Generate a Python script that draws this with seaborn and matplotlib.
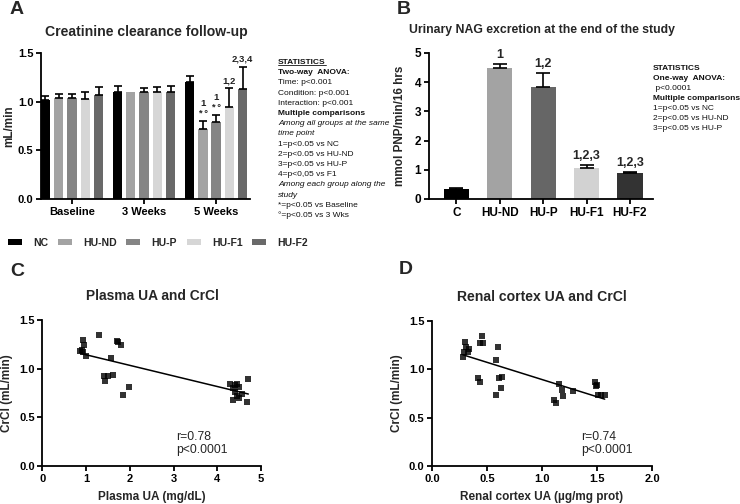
import numpy as np
import pandas as pd
import matplotlib
matplotlib.use("Agg")
import matplotlib.pyplot as plt
import seaborn as sns
from matplotlib.patches import Patch
from matplotlib.lines import Line2D
from matplotlib.container import BarContainer

# ---------------- data ----------------
groups = ["NC", "HU-ND", "HU-P", "HU-F1", "HU-F2"]
timepoints = ["Baseline", "3 Weeks", "5 Weeks"]
crcl_nc = [1.02, 1.10, 1.20]
crcl_hund = [1.04, 1.10, 0.72]
crcl_hup = [1.04, 1.10, 0.79]
crcl_huf1 = [1.03, 1.10, 0.95]
crcl_huf2 = [1.07, 1.10, 1.13]
crcl_err_nc = [0.04, 0.06, 0.06]
crcl_err_hund = [0.04, 0.0, 0.08]
crcl_err_hup = [0.04, 0.04, 0.07]
crcl_err_huf1 = [0.07, 0.05, 0.19]
crcl_err_huf2 = [0.08, 0.06, 0.23]
crcl_sig_5wk = ["", "1\n* °", "1\n* °", "1,2", "2,3,4"]

nag_groups = ["C", "HU-ND", "HU-P", "HU-F1", "HU-F2"]
nag_mean = [0.33, 4.47, 3.85, 1.05, 0.88]
nag_err = [0.03, 0.15, 0.45, 0.10, 0.03]
nag_sig = ["", "1", "1,2", "1,2,3", "1,2,3"]

plasma_ua = [0.87, 0.92, 0.95, 0.90, 0.94, 1.00, 1.30, 1.70, 1.74, 1.79, 1.57,
             1.40, 1.43, 1.51, 1.62, 1.98, 1.85,
             4.29, 4.41, 4.71, 4.41, 4.45, 4.56, 4.68, 4.37, 4.49, 4.35, 4.50, 4.46]
crcl_c = [1.18, 1.29, 1.24, 1.19, 1.17, 1.13, 1.35, 1.28, 1.27, 1.24, 1.11,
          0.92, 0.87, 0.92, 0.93, 0.815, 0.73,
          0.84, 0.83, 0.89, 0.76, 0.72, 0.74, 0.66, 0.80, 0.81, 0.68, 0.70, 0.84]

cortex_ua = [0.28, 0.29, 0.30, 0.31, 0.33, 0.34, 0.45, 0.44, 0.46, 0.60, 0.58,
             0.42, 0.44, 0.58, 0.61, 0.64, 0.63,
             1.15, 1.18, 1.19, 1.11, 1.13, 1.28, 1.48, 1.50, 1.54, 1.51, 1.49, 1.57]
crcl_d = [1.13, 1.18, 1.28, 1.23, 1.18, 1.21, 1.34, 1.27, 1.27, 1.23, 1.10,
          0.915, 0.87, 0.73, 0.91, 0.92, 0.81,
          0.85, 0.79, 0.72, 0.68, 0.655, 0.78, 0.87, 0.84, 0.73, 0.73, 0.83, 0.73]

colors_a = ["#000000", "#a3a3a3", "#858585", "#d6d6d6", "#696969"]
colors_b = ["#000000", "#a3a3a3", "#666666", "#d2d2d2", "#333333"]

# ---------------- style ----------------
sns.set_theme(style="ticks")
plt.rcParams["font.family"] = ["Liberation Sans", "DejaVu Sans"]
plt.rcParams.update({
    "axes.linewidth": 1.3,
    "xtick.major.width": 1.3,
    "ytick.major.width": 1.3,
    "xtick.major.size": 3.5,
    "ytick.major.size": 3.5,
    "xtick.color": "black",
    "ytick.color": "black",
    "axes.edgecolor": "black",
})

W, H = 740, 504
fig = plt.figure(figsize=(W / 100, H / 100), dpi=100)


def ax_px(left, top, right, bottom):
    return fig.add_axes([left / W, 1 - bottom / H, (right - left) / W, (bottom - top) / H])


def fx(x):
    return x / W


def fy(y):
    return 1 - y / H


def style_ax(ax, size=8):
    sns.despine(ax=ax)
    for lab in ax.get_xticklabels() + ax.get_yticklabels():
        lab.set_fontweight("bold")
        lab.set_fontsize(size)
    ax.tick_params(axis="both", pad=2)


# ---------------- Panel A ----------------
axA = ax_px(41, 53, 250, 199)
rows = []
means_all = [crcl_nc, crcl_hund, crcl_hup, crcl_huf1, crcl_huf2]
errs_all = [crcl_err_nc, crcl_err_hund, crcl_err_hup, crcl_err_huf1, crcl_err_huf2]
for g, m in zip(groups, means_all):
    for t, v in zip(timepoints, m):
        rows.append({"time": t, "group": g, "value": v})
dfA = pd.DataFrame(rows)
sns.barplot(data=dfA, x="time", y="value", hue="group", hue_order=groups,
            order=timepoints, palette=colors_a, width=0.92, gap=0.3,
            errorbar=None, legend=False, linewidth=0, ax=axA)
bar_containers = [c for c in axA.containers if isinstance(c, BarContainer)]
for gi, cont in enumerate(bar_containers):
    for ti, bar in enumerate(list(cont)):
        xc = bar.get_x() + bar.get_width() / 2
        top = bar.get_height()
        e = errs_all[gi][ti]
        if e > 0:
            axA.errorbar([xc], [top], yerr=[[0], [e]], fmt="none", ecolor="black",
                         elinewidth=1.2, capsize=2.6, capthick=1.2)
        if ti == 2 and crcl_sig_5wk[gi]:
            axA.text(xc, top + e + 0.03, crcl_sig_5wk[gi], ha="center", va="bottom",
                     fontsize=6.8, fontweight="bold", linespacing=1.2, color="#222222")
axA.set_ylim(0, 1.5)
axA.set_xlim(-0.43, 2.47)
axA.set_yticks([0, 0.5, 1.0, 1.5])
axA.set_yticklabels(["0.0", "0.5", "1.0", "1.5"])
axA.set_xlabel("")
axA.set_ylabel("mL/min", fontsize=8.5, fontweight="bold", labelpad=2)
style_ax(axA)
fig.text(fx(146), fy(32), "Creatinine clearance follow-up", ha="center", va="center",
         fontsize=10.1, fontweight="bold")

statsA = [
    ("STATISTICS", "bold"), ("Two-way  ANOVA:", "bold"), ("Time: p<0.001", "normal"),
    ("Condition: p<0.001", "normal"), ("Interaction: p<0.001", "normal"),
    ("Multiple comparisons", "bold"), ("Among all groups at the same", "italic"),
    ("time point", "italic"), ("1=p<0.05 vs NC", "normal"), ("2=p<0.05 vs HU-ND", "normal"),
    ("3=p<0.05 vs HU-P", "normal"), ("4=p<0,05 vs F1", "normal"),
    ("Among each group along the", "italic"), ("study", "italic"),
    ("*=p<0.05 vs Baseline", "normal"), ("°=p<0.05 vs 3 Wks", "normal"),
]
text_objs = []
for i, (s, st) in enumerate(statsA):
    kw = dict(fontsize=6.0, ha="left", va="center", color="#111111")
    if st == "bold":
        kw["fontweight"] = "bold"
    elif st == "italic":
        kw["fontstyle"] = "italic"
    text_objs.append(fig.text(fx(278), fy(62.5 + i * 10.2), s, **kw))

# ---------------- Panel B ----------------
axB = ax_px(429, 53, 653, 199)
sns.barplot(x=nag_groups, y=nag_mean, hue=nag_groups, palette=colors_b, width=0.58,
            legend=False, linewidth=0, ax=axB)
barsB = list(axB.patches)
for i, bar in enumerate(barsB):
    xc = bar.get_x() + bar.get_width() / 2
    top = bar.get_height()
    axB.errorbar([xc], [top], yerr=[[0], [nag_err[i]]], fmt="none", ecolor="black",
                 elinewidth=1.2, capsize=5, capthick=1.2)
    if nag_sig[i]:
        axB.text(xc, top + nag_err[i] + 0.12, nag_sig[i], ha="center", va="bottom",
                 fontsize=9, fontweight="bold")
axB.set_ylim(0, 5)
axB.set_xlim(-0.63, 4.53)
axB.set_yticks([0, 1, 2, 3, 4, 5])
axB.set_ylabel("mmol PNP/min/16 hrs", fontsize=8.5, fontweight="bold", labelpad=6)
style_ax(axB, size=8.5)
fig.text(fx(542), fy(30), "Urinary NAG excretion at the end of the study", ha="center",
         va="center", fontsize=8.8, fontweight="bold")
statsB = [
    ("STATISTICS", "bold"), ("One-way  ANOVA:", "bold"), (" p<0.0001", "normal"),
    ("Multiple comparisons", "bold"), ("1=p<0.05 vs NC", "normal"),
    ("2=p<0.05 vs HU-ND", "normal"), ("3=p<0.05 vs HU-P", "normal"),
]
for i, (s, st) in enumerate(statsB):
    kw = dict(fontsize=6.0, ha="left", va="center", color="#111111")
    if st == "bold":
        kw["fontweight"] = "bold"
    fig.text(fx(653), fy(69 + i * 10), s, **kw)

# ---------------- Legend ----------------
handles = [Patch(facecolor=c, edgecolor="none") for c in colors_a]
leg = fig.legend(handles, groups, loc="center left", bbox_to_anchor=(fx(8), fy(243)),
                 ncol=5, frameon=False, handlelength=1.35, handleheight=0.45,
                 handletextpad=1.05, columnspacing=0.95, borderpad=0, borderaxespad=0,
                 prop={"weight": "bold", "size": 7.5})

# ---------------- Panel C ----------------
axC = ax_px(42.3, 320, 261, 466)
sns.regplot(x=plasma_ua, y=crcl_c, ci=None, marker="s", color="black",
            scatter_kws={"s": 16, "linewidths": 0}, line_kws={"lw": 1.1}, ax=axC)
axC.set_xlim(0, 5)
axC.set_ylim(0, 1.5)
axC.set_xticks([0, 1, 2, 3, 4, 5])
axC.set_yticks([0, 0.5, 1.0, 1.5])
axC.set_yticklabels(["0.0", "0.5", "1.0", "1.5"])
axC.set_xlabel("Plasma UA (mg/dL)", fontsize=8.5, fontweight="bold", labelpad=5)
axC.set_ylabel("CrCl (mL/min)", fontsize=8.5, fontweight="bold", labelpad=4)
style_ax(axC)
axC.text(3.06, 0.36, "r=0.78\np<0.0001", fontsize=8.7, va="top", ha="left", linespacing=1.1)
fig.text(fx(152), fy(296), "Plasma UA and CrCl", ha="center", va="center",
         fontsize=9.9, fontweight="bold")

# ---------------- Panel D ----------------
axD = ax_px(432, 321, 652, 466)
sns.regplot(x=cortex_ua, y=crcl_d, ci=None, marker="s", color="black",
            scatter_kws={"s": 16, "linewidths": 0}, line_kws={"lw": 1.1}, ax=axD)
axD.set_xlim(0, 2)
axD.set_ylim(0, 1.5)
axD.set_xticks([0, 0.5, 1.0, 1.5, 2.0])
axD.set_xticklabels(["0.0", "0.5", "1.0", "1.5", "2.0"])
axD.set_yticks([0, 0.5, 1.0, 1.5])
axD.set_yticklabels(["0.0", "0.5", "1.0", "1.5"])
axD.set_xlabel("Renal cortex UA (µg/mg prot)", fontsize=8.5, fontweight="bold", labelpad=5)
axD.set_ylabel("CrCl (mL/min)", fontsize=8.5, fontweight="bold", labelpad=4)
style_ax(axD)
axD.text(1.36, 0.36, "r=0.74\np<0.0001", fontsize=8.7, va="top", ha="left", linespacing=1.1)
fig.text(fx(542), fy(297), "Renal cortex UA and CrCl", ha="center", va="center",
         fontsize=10.1, fontweight="bold")

# ---------------- panel letters ----------------
for letter, x, y in [("A", 10, 10), ("B", 397, 10), ("C", 10, 272), ("D", 399, 270)]:
    fig.text(fx(x), fy(y), letter, ha="left", va="center", fontsize=14, fontweight="bold")

# underline "STATISTICS" in panel A
fig.canvas.draw()
bb = text_objs[0].get_window_extent().transformed(fig.transFigure.inverted())
fig.add_artist(Line2D([bb.x0, bb.x1], [bb.y0 + 0.001, bb.y0 + 0.001],
                      transform=fig.transFigure, color="#111111", lw=0.6))

fig.savefig("out.png", dpi=100)
